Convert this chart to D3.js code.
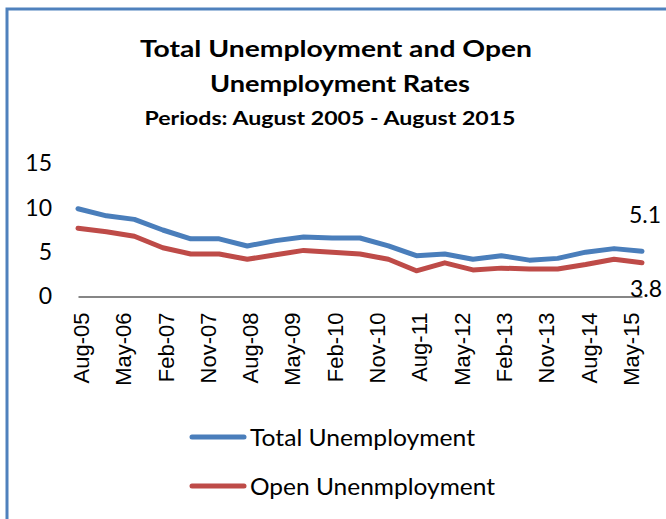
<!DOCTYPE html>
<html>
<head>
<meta charset="utf-8">
<script src="https://cdn.jsdelivr.net/npm/d3@7"></script>
<style>
  html, body { margin: 0; padding: 0; background: #fff; }
  svg { display: block; }
</style>
</head>
<body>
<div id="chart"></div>
<script>
// periods (Feb / Aug surveys)
const periods = ["Aug-05","Feb-06","Aug-06","Feb-07","Aug-07","Feb-08","Aug-08","Feb-09","Aug-09","Feb-10",
  "Aug-10","Feb-11","Aug-11","Feb-12","Aug-12","Feb-13","Aug-13","Feb-14","Aug-14","Feb-15","Aug-15"];
const totalUnemp = [9.9, 9.1, 8.7, 7.5, 6.5, 6.5, 5.7, 6.3, 6.7, 6.6, 6.6, 5.7, 4.6, 4.8, 4.2, 4.6, 4.1, 4.3, 5.0, 5.4, 5.1];
const openUnemp  = [7.7, 7.3, 6.8, 5.5, 4.8, 4.8, 4.2, 4.7, 5.2, 5.0, 4.8, 4.2, 2.9, 3.8, 3.0, 3.2, 3.1, 3.1, 3.6, 4.2, 3.8];
const xTickLabels = ["Aug-05","May-06","Feb-07","Nov-07","Aug-08","May-09","Feb-10","Nov-10","Aug-11",
  "May-12","Feb-13","Nov-13","Aug-14","May-15"];
const yTicks = [0, 5, 10, 15];
const seriesNames = ["Total Unemployment", "Open Unenmployment"];

const W = 666, H = 519;
const parse = d3.timeParse("%b-%y");
const fmt = d3.timeFormat("%b-%y");
const dates = periods.map(parse);

const svg = d3.select("#chart").append("svg")
  .attr("width", W).attr("height", H);

// chart frame
svg.append("path")
  .attr("d", `M7,${H + 5} L7,9 L${W + 5},9`)
  .attr("fill", "none")
  .attr("stroke", "#4F81BD")
  .attr("stroke-width", 3);

// titles (stretched a bit to the width of the original's Calibri)
const titleFont = "Lato, 'Open Sans', sans-serif";
function title(txt, cx, yy, size, len) {
  svg.append("text").attr("x", cx - len / 2).attr("y", yy)
    .attr("font-family", titleFont).attr("font-weight", "bold").attr("font-size", size)
    .attr("textLength", len).attr("lengthAdjust", "spacingAndGlyphs")
    .text(txt);
}
title("Total Unemployment and Open", 336, 57, 23.5, 392);
title("Unemployment Rates", 340, 92, 23.5, 260);
title("Periods: August 2005 - August 2015", 330, 125, 18.5, 371);

var x = d3.scaleTime()
  .domain([dates[0], dates[dates.length - 1]])
  .range([78, 642]);
var y = d3.scaleLinear()
  .domain([0, 15])
  .range([296.5, 163.5]);

// y axis labels (no line)
svg.append("g")
  .attr("transform", "translate(52,0)")
  .call(d3.axisLeft(y).tickValues(yTicks).tickSize(0).tickPadding(0))
  .call(g => g.select(".domain").remove())
  .selectAll("text")
    .attr("font-family", titleFont)
    .attr("font-size", 23)
    .attr("fill", "#000");

// x axis
const xAxis = svg.append("g")
  .attr("transform", "translate(0," + y(0) + ")")
  .call(d3.axisBottom(x).tickValues(xTickLabels.map(parse)).tickFormat(fmt).tickSize(0));
xAxis.select(".domain")
  .attr("stroke", "#868686")
  .attr("stroke-width", 2);
xAxis.selectAll(".tick text")
  .attr("font-family", "'Liberation Sans', Arial, sans-serif")
  .attr("font-size", 22)
  .attr("fill", "#000")
  .attr("text-anchor", "end")
  .attr("dominant-baseline", "central")
  .attr("dy", null)
  .attr("y", 0)
  .attr("transform", "translate(3,16) rotate(-90)");

// lines
const colors = ["#4A7EBB", "#BE4B48"];
const series = [totalUnemp, openUnemp];
const line = d3.line()
  .x((d, i) => x(dates[i]))
  .y(d => y(d));

svg.append("g").selectAll("path")
  .data(series)
  .enter().append("path")
    .attr("d", line)
    .attr("fill", "none")
    .attr("stroke", (d, i) => colors[i])
    .attr("stroke-width", 5)
    .attr("stroke-linejoin", "round")
    .attr("stroke-linecap", "round");

// end labels
const last = dates.length - 1;
svg.append("text")
  .attr("x", x(dates[last]) + 3).attr("y", y(totalUnemp[last]) - 28)
  .attr("text-anchor", "middle")
  .attr("font-family", titleFont).attr("font-size", 23)
  .text(totalUnemp[last]);
svg.append("text")
  .attr("x", x(dates[last]) + 4).attr("y", y(openUnemp[last]) + 34)
  .attr("text-anchor", "middle")
  .attr("font-family", titleFont).attr("font-size", 23)
  .text(openUnemp[last]);

// legend
const legendLen = [225, 245];
const legend = svg.append("g").selectAll("g")
  .data(seriesNames)
  .enter().append("g")
    .attr("transform", (d, i) => `translate(0, ${437 + i * 49})`);
legend.append("line")
  .attr("x1", 192).attr("x2", 244)
  .attr("stroke", (d, i) => colors[i])
  .attr("stroke-width", 5)
  .attr("stroke-linecap", "round");
legend.append("text")
  .attr("x", 250).attr("y", 9)
  .attr("font-family", titleFont).attr("font-size", 23)
  .attr("textLength", (d, i) => legendLen[i]).attr("lengthAdjust", "spacingAndGlyphs")
  .text(d => d);
</script>
</body>
</html>
